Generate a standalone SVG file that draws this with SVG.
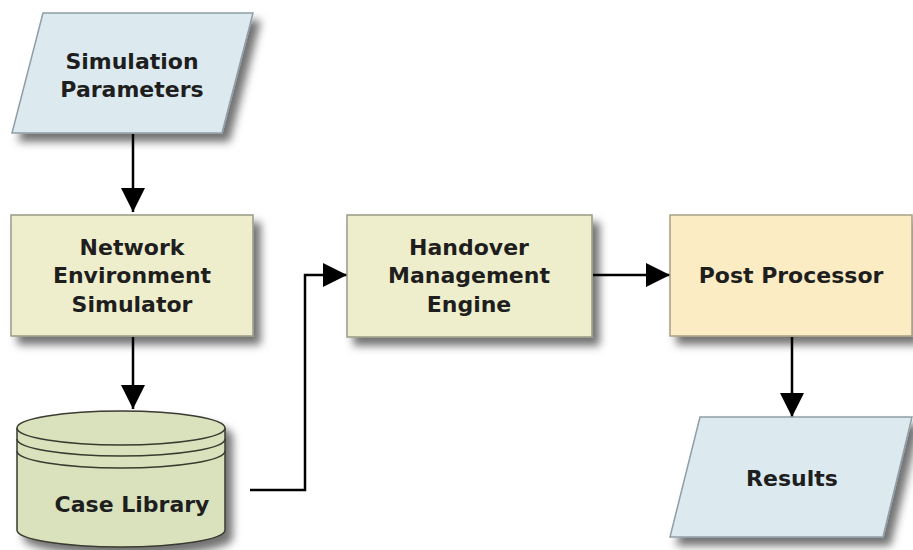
<svg xmlns="http://www.w3.org/2000/svg" width="913" height="550" viewBox="0 0 913 550">
<defs>
<filter id="sh" x="-20%" y="-20%" width="150%" height="160%">
<feDropShadow dx="7" dy="8" stdDeviation="4" flood-color="#000" flood-opacity="0.55"/>
</filter>
<marker id="ah" viewBox="0 0 10 10" refX="10" refY="5" markerWidth="11" markerHeight="11" markerUnits="userSpaceOnUse" orient="auto">
<path d="M0,0 L10,5 L0,10 Z" fill="#000"/>
</marker>
<marker id="arr" viewBox="0 0 24 24" refX="24" refY="12" markerWidth="24" markerHeight="24" markerUnits="userSpaceOnUse" orient="auto">
<path d="M0,0 L24,12 L0,24 Z" fill="#000"/>
</marker>
</defs>
<style>
.t{font-family:"DejaVu Sans",Verdana,sans-serif;font-weight:bold;font-size:22px;fill:#1e1e1e;text-anchor:middle}
.io{fill:#dce9ef;stroke:#8e9ea6;stroke-width:1.5}
.pr{fill:#eeeecc;stroke:#9a9a86;stroke-width:1.5}
.pp{fill:#fbecc4;stroke:#a89e86;stroke-width:1.5}
.db{fill:#d9e2bd;stroke:#3a3a30;stroke-width:1.5}
.c{fill:none;stroke:#000;stroke-width:2.5}
</style>
<rect width="913" height="550" fill="#fff"/>
<g id="connectors">
<path class="c" d="M133,134 V212" marker-end="url(#arr)"/>
<path class="c" d="M133,337 V409" marker-end="url(#arr)"/>
<path class="c" d="M250,490 H305 V275 H347" marker-end="url(#arr)"/>
<path class="c" d="M593,275 H670" marker-end="url(#arr)"/>
<path class="c" d="M792,337 V417" marker-end="url(#arr)"/>
</g>
<g id="sim-params">
<polygon class="io" filter="url(#sh)" points="43,13 253,13 222,133 12,133"/>
<text class="t" x="132" y="69">Simulation</text>
<text class="t" x="132" y="97">Parameters</text>
</g>
<g id="net-env-sim">
<rect class="pr" filter="url(#sh)" x="11" y="215" width="242" height="121"/>
<text class="t" x="132" y="255">Network</text>
<text class="t" x="132" y="283">Environment</text>
<text class="t" x="132" y="312">Simulator</text>
</g>
<g id="case-library">
<path class="db" filter="url(#sh)" d="M17,428 A104,17 0 0 1 225,428 V530 A104,17 0 0 1 17,530 Z"/>
<path class="db" d="M17,428 A104,17 0 0 0 225,428"/>
<path fill="none" stroke="#3a3a30" stroke-width="1.5" d="M17,439 A104,17 0 0 0 225,439 M17,451 A104,17 0 0 0 225,451"/>
<text class="t" x="132" y="512">Case Library</text>
</g>
<g id="handover">
<rect class="pr" filter="url(#sh)" x="347" y="215" width="245" height="122"/>
<text class="t" x="469" y="255">Handover</text>
<text class="t" x="469" y="283">Management</text>
<text class="t" x="469" y="312">Engine</text>
</g>
<g id="post-processor">
<rect class="pp" filter="url(#sh)" x="670" y="215" width="242" height="121"/>
<text class="t" x="791" y="283">Post Processor</text>
</g>
<g id="results">
<polygon class="io" filter="url(#sh)" points="700,417 912,417 883,537 670,537"/>
<text class="t" x="792" y="486">Results</text>
</g>
</svg>
